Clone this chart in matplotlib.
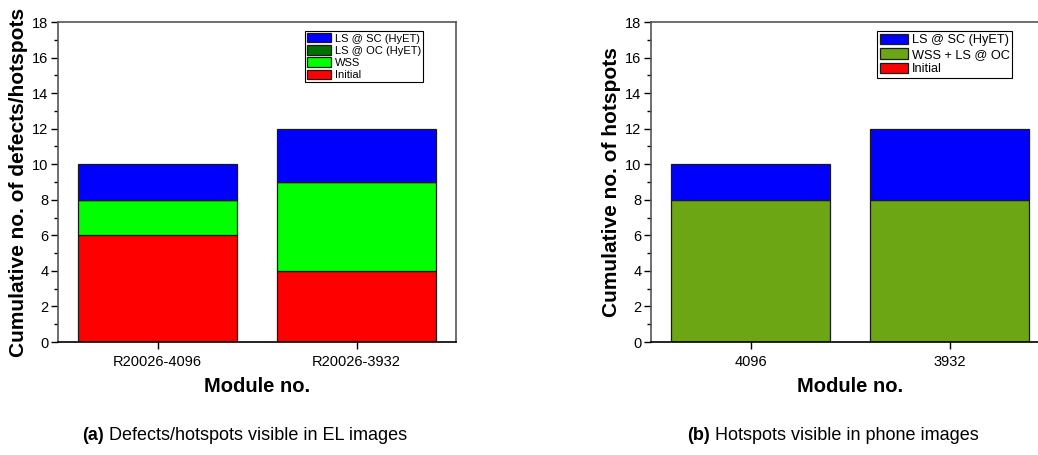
import matplotlib
matplotlib.use("Agg")
import matplotlib.pyplot as plt
from matplotlib.ticker import MultipleLocator
import numpy as np

plt.rcParams['font.family'] = ['Liberation Sans', 'DejaVu Sans']

# Panel (a)
cats_a = ["R20026-4096", "R20026-3932"]
initial_a = [6, 4]
wss_a = [2, 5]
ls_oc_a = [0, 0]
ls_sc_a = [2, 3]

# Panel (b)
cats_b = ["4096", "3932"]
initial_b = [0, 0]
wss_ls_oc_b = [8, 8]
ls_sc_b = [2, 4]

W, H = 1038, 455
fig = plt.figure(figsize=(W / 100, H / 100), dpi=100)

def px_axes(x0, x1, ytop, ybot):
    return fig.add_axes([x0 / W, (H - ybot) / H, (x1 - x0) / W, (ybot - ytop) / H])

ax1 = px_axes(58, 456, 22, 342)
ax2 = px_axes(651, 1049, 22, 342)

edge = dict(edgecolor='#1a1a1a', linewidth=0.9)

def style(ax, cats, ylabel):
    x = np.arange(1, len(cats) + 1)
    ax.set_xlim(0.5, 2.5)
    ax.set_ylim(0, 18)
    ax.set_xticks(x)
    ax.set_xticklabels(cats, fontsize=10.5)
    ax.yaxis.set_major_locator(MultipleLocator(2))
    ax.yaxis.set_minor_locator(MultipleLocator(1))
    ax.tick_params(axis='y', which='major', direction='out', length=5, width=1, labelsize=10.5, pad=2)
    ax.tick_params(axis='y', which='minor', direction='out', length=3, width=1)
    ax.tick_params(axis='x', which='major', direction='out', length=5, width=1, pad=4)
    ax.tick_params(axis='x', which='minor', bottom=False)
    for s in ['left', 'top', 'right']:
        ax.spines[s].set_color('#555555')
        ax.spines[s].set_linewidth(1.2)
    ax.spines['bottom'].set_color('black')
    ax.spines['bottom'].set_linewidth(1.2)
    ax.set_ylabel(ylabel, fontsize=15, fontweight='bold', labelpad=3)
    ax.set_xlabel("Module no.", fontsize=14.5, fontweight='bold', labelpad=6)

# Panel (a) bars
x = np.arange(1, 3)
b0 = np.array(initial_a)
h1 = ax1.bar(x, initial_a, width=0.8, color='#FF0000', **edge)
h2 = ax1.bar(x, wss_a, width=0.8, bottom=b0, color='#00FF00', **edge)
b1 = b0 + np.array(wss_a)
h3 = ax1.bar(x, ls_oc_a, width=0.8, bottom=b1, color='#007000', **edge)
b2 = b1 + np.array(ls_oc_a)
h4 = ax1.bar(x, ls_sc_a, width=0.8, bottom=b2, color='#0000FF', **edge)
style(ax1, cats_a, "Cumulative no. of defects/hotspots")
leg1 = ax1.legend([h4, h3, h2, h1], ["LS @ SC (HyET)", "LS @ OC (HyET)", "WSS", "Initial"],
                  loc='upper left', bbox_to_anchor=(0.62, 0.972), fontsize=8,
                  fancybox=False, edgecolor='black', framealpha=1, borderpad=0.2,
                  labelspacing=0.15, handletextpad=0.3, handlelength=2.2, handleheight=0.9,
                  borderaxespad=0)
leg1.get_frame().set_linewidth(0.8)

# Panel (b) bars
c0 = np.array(initial_b)
g1 = ax2.bar(x, initial_b, width=0.8, color='#FF0000', **edge)
g2 = ax2.bar(x, wss_ls_oc_b, width=0.8, bottom=c0, color='#6CA615', **edge)
c1 = c0 + np.array(wss_ls_oc_b)
g3 = ax2.bar(x, ls_sc_b, width=0.8, bottom=c1, color='#0000FF', **edge)
style(ax2, cats_b, "Cumulative no. of hotspots")
leg2 = ax2.legend([g3, g2, g1], ["LS @ SC (HyET)", "WSS + LS @ OC", "Initial"],
                  loc='upper left', bbox_to_anchor=(0.568, 0.972), fontsize=9.2,
                  fancybox=False, edgecolor='black', framealpha=1, borderpad=0.2,
                  labelspacing=0.15, handletextpad=0.3, handlelength=2.2, handleheight=0.9,
                  borderaxespad=0)
leg2.get_frame().set_linewidth(0.8)

# Captions
from matplotlib.offsetbox import TextArea, HPacker, AnchoredOffsetbox

def caption(xc, tag, text):
    t1 = TextArea(tag, textprops=dict(fontsize=13, fontweight='bold'))
    t2 = TextArea(" " + text, textprops=dict(fontsize=13))
    box = HPacker(children=[t1, t2], align='baseline', pad=0, sep=0)
    ab = AnchoredOffsetbox(loc='center', child=box, frameon=False,
                           bbox_to_anchor=(xc / W, (H - 436) / H),
                           bbox_transform=fig.transFigure, pad=0, borderpad=0)
    fig.add_artist(ab)

caption(245, "(a)", "Defects/hotspots visible in EL images")
caption(833, "(b)", "Hotspots visible in phone images")

fig.savefig("out.png", dpi=100)
